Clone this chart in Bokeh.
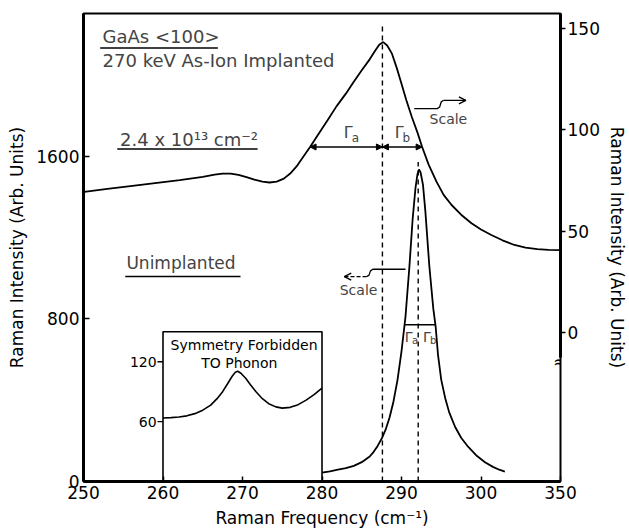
from bokeh.plotting import figure
from bokeh.models import Range1d, LinearAxis, FixedTicker, Label, Arrow, NormalHead, OpenHead
from bokeh.embed import file_html
from bokeh.resources import INLINE
from bokeh.core.properties import value

FONT = "DejaVu Sans"

# ---------------- data ----------------
x_ticks = [250, 260, 270, 280, 290, 300, 310]
x_tick_labels = ["250", "260", "270", "280", "290", "300", "350"]
left_ticks = [0, 800, 1600]
right_ticks = [0, 50, 100, 150]
inset_ticks = [60, 120]
inset_tick_labels = ["60", "120"]

# 2.4e13 cm^-2 implanted spectrum (right scale)
impl_freq = [250.1, 253.0, 255.9, 259.0, 262.1, 265.0, 266.5, 267.5, 268.5, 269.5, 270.5,
             271.5, 272.5, 273.4, 274.3, 275.2, 276.0, 276.8, 277.6, 278.5, 279.5, 280.7,
             281.8, 283.0, 284.0, 285.0, 286.0, 286.7, 287.2, 287.7, 288.2, 288.8, 289.4,
             290.0, 290.6, 291.3, 292.0, 292.6, 293.4, 294.4, 295.3, 296.3, 297.5, 298.8,
             300.0, 301.3, 302.7, 304.2, 305.6, 307.1, 308.5, 310.0]
impl_int = [69.5, 70.9, 72.3, 73.8, 75.3, 76.9, 78.0, 78.5, 78.5, 77.8, 76.7,
            75.5, 74.5, 74.1, 74.5, 76.0, 78.5, 82.0, 86.5, 91.6, 97.6, 104.8,
            111.5, 117.9, 123.8, 129.4, 134.8, 139.2, 142.0, 143.3, 141.6, 137.6, 130.6,
            122.8, 114.8, 106.4, 98.8, 91.6, 83.0, 74.5, 68.0, 63.0, 58.2, 54.0,
            50.9, 48.2, 45.6, 43.3, 42.0, 41.2, 40.9, 40.8]

# unimplanted spectrum (left scale)
unimpl_freq = [280.0, 281.0, 282.0, 283.0, 284.0, 285.0, 286.0, 286.5, 287.0, 287.5, 288.0,
               288.5, 289.0, 289.5, 290.0, 290.5, 291.0, 291.4, 291.75, 292.0, 292.2, 292.4,
               292.7, 293.0, 293.5, 294.0, 294.3, 294.6, 295.0, 295.5, 296.0, 296.75, 297.5,
               298.4, 299.5, 300.5, 301.5, 302.3, 303.0]
unimpl_int = [44, 50, 58, 66, 77, 95, 123, 146, 175, 210, 255,
              315, 395, 500, 640, 810, 1060, 1290, 1440, 1510, 1535, 1520,
              1460, 1330, 1060, 850, 760, 620, 500, 410, 340, 268, 215,
              170, 125, 95, 72, 58, 49]

# inset: symmetry forbidden TO phonon (inset scale)
inset_freq = [260.0, 261.0, 262.0, 263.0, 264.0, 265.0, 266.0, 266.8, 267.5, 268.2, 268.7,
              269.1, 269.4, 269.8, 270.4, 271.0, 271.7, 272.5, 273.3, 274.2, 275.0, 276.0,
              277.0, 278.0, 279.0, 280.0]
inset_int = [63.7, 64.0, 64.6, 65.8, 68.0, 71.5, 76.5, 83.0, 90.0, 99.0, 105.5,
             109.5, 110.5, 108.5, 103.5, 97.0, 90.0, 83.0, 78.0, 74.8, 73.5, 74.3,
             77.0, 81.5, 87.0, 93.5]

# ---------------- figure ----------------
p = figure(width=629, height=530, output_backend="svg", toolbar_location=None,
           x_range=Range1d(250, 310), y_range=Range1d(0, 2302),
           min_border_left=83, min_border_right=63, min_border_top=13, min_border_bottom=48)
p.extra_y_ranges = {"right": Range1d(-73.3, 157.4), "inset": Range1d(0, 469)}
p.xgrid.grid_line_color = None
p.ygrid.grid_line_color = None
p.outline_line_color = "black"
p.outline_line_width = 2
p.background_fill_color = "white"
p.border_fill_color = "white"

def style_axis(ax):
    ax.axis_line_width = 3
    ax.axis_line_color = "black"
    ax.major_tick_line_color = "black"
    ax.major_tick_line_width = 1.5
    ax.minor_tick_line_color = None
    ax.major_label_text_font = FONT
    ax.major_label_text_font_size = "17px"
    ax.major_label_text_color = "black"
    ax.axis_label_text_font = FONT
    ax.axis_label_text_font_size = "17px"
    ax.axis_label_text_font_style = "normal"
    ax.axis_label_text_color = "black"

xa = p.xaxis[0]
style_axis(xa)
xa.ticker = FixedTicker(ticks=x_ticks)
xa.major_label_overrides = {t: s for t, s in zip(x_ticks, x_tick_labels)}
xa.major_tick_in = 5
xa.major_tick_out = 0
xa.major_label_standoff = 4
xa.axis_label = "Raman Frequency (cm⁻¹)"
xa.axis_label_standoff = 6

ya = p.yaxis[0]
style_axis(ya)
ya.ticker = FixedTicker(ticks=left_ticks)
ya.major_tick_in = 6
ya.major_tick_out = 0
ya.major_label_standoff = 4
ya.axis_label = "Raman Intensity (Arb. Units)"
ya.axis_label_standoff = 6

ra = LinearAxis(y_range_name="right", ticker=FixedTicker(ticks=right_ticks),
                axis_label="Raman Intensity (Arb. Units)")
style_axis(ra)
ra.major_tick_in = 0
ra.major_tick_out = 5
ra.major_label_standoff = 2
ra.axis_label_standoff = 4
ra.bounds = (-12.0, 157.4)
p.add_layout(ra, "right")

# curves
p.line(impl_freq, impl_int, y_range_name="right", line_color="black", line_width=1.8)
p.line(unimpl_freq, unimpl_int, line_color="black", line_width=1.8)
p.line(inset_freq, inset_int, y_range_name="inset", line_color="black", line_width=1.6)

# inset frame and ticks
p.line([260, 260, 280, 280], [0, 150, 150, 0], y_range_name="inset", line_color="black", line_width=1.6)
p.segment(x0=[259.3] * len(inset_ticks), y0=inset_ticks, x1=[260] * len(inset_ticks), y1=inset_ticks,
          y_range_name="inset", line_color="black", line_width=1.3)
p.text(x=[259.2] * len(inset_ticks), y=inset_ticks, text=inset_tick_labels, y_range_name="inset",
       text_font=value(FONT), text_font_size="14px", text_align="right", text_baseline="middle")
p.text(x=[270.2], y=[136.5], text=["Symmetry Forbidden"], y_range_name="inset",
       text_font=value(FONT), text_font_size="14px", text_align="center", text_baseline="middle")
p.text(x=[269.6], y=[118.5], text=["TO Phonon"], y_range_name="inset",
       text_font=value(FONT), text_font_size="14px", text_align="center", text_baseline="middle")

# dashed peak markers
p.segment(x0=[287.6], y0=[0], x1=[287.6], y1=[2245], line_color="black", line_width=1.4, line_dash="5 4")
p.segment(x0=[292.1], y0=[0], x1=[292.1], y1=[1572], line_color="black", line_width=1.4, line_dash="5 4")

# widths (Gamma) on implanted peak
for xs, xe in [(287.6, 278.5), (287.6, 292.6)]:
    p.add_layout(Arrow(x_start=xs, y_start=91.6, x_end=xe, y_end=91.6, y_range_name="right",
                       start=NormalHead(size=6, fill_color="black", line_color="black"),
                       end=NormalHead(size=6, fill_color="black", line_color="black"),
                       line_color="black", line_width=1.4))

def gamma(x, y, sub, y_range="default", size=15):
    p.add_layout(Label(x=x, y=y, text="Γ", y_range_name=y_range, text_font=FONT,
                       text_font_size=f"{size}px", text_align="center", text_baseline="middle"))
    p.add_layout(Label(x=x, y=y, x_offset=size * 0.45, y_offset=-size * 0.3, text=sub,
                       y_range_name=y_range, text_font=FONT, text_font_size=f"{int(size * 0.75)}px",
                       text_align="center", text_baseline="middle"))

gamma(283.3, 98.5, "a", "right", 16)
gamma(289.7, 98.5, "b", "right", 16)

# widths on unimplanted peak
p.segment(x0=[290.45], y0=[771], x1=[294.3], y1=[771], line_color="black", line_width=1.4)
gamma(290.9, 712, "a", "default", 14)
gamma(293.2, 712, "b", "default", 14)

# "Scale" arrows
p.line([291.6, 294.5, 294.8, 295.0, 295.3], [110.5, 110.5, 111.3, 113.9, 114.6],
       y_range_name="right", line_color="black", line_width=1.3)
p.add_layout(Arrow(x_start=295.3, y_start=114.6, x_end=298.1, y_end=114.6, y_range_name="right",
                   end=OpenHead(size=7, line_color="black", line_width=1.3),
                   line_color="black", line_width=1.3))
p.add_layout(Label(x=295.9, y=105.3, text="Scale", y_range_name="right", text_font=FONT,
                   text_font_size="14px", text_align="center", text_baseline="middle"))

p.line([290.5, 286.4, 286.1, 285.9, 285.6], [1044, 1044, 1036, 1014, 1008],
       line_color="black", line_width=1.3)
p.add_layout(Arrow(x_start=285.6, y_start=1008, x_end=282.8, y_end=1008,
                   end=OpenHead(size=7, line_color="black", line_width=1.3),
                   line_color="black", line_width=1.3, line_dash="4 2"))
p.add_layout(Label(x=284.6, y=942, text="Scale", text_font=FONT,
                   text_font_size="14px", text_align="center", text_baseline="middle"))

# titles / sample labels
p.add_layout(Label(x=252.4, y=2190, text="GaAs <100>", text_font=FONT, text_font_size="18px",
                   text_align="left", text_baseline="middle"))
p.segment(x0=[252.1], y0=[2132], x1=[266.9], y1=[2132], line_color="black", line_width=1.5)
p.add_layout(Label(x=252.4, y=2071, text="270 keV As-Ion Implanted", text_font=FONT,
                   text_font_size="18px", text_align="left", text_baseline="middle"))
p.add_layout(Label(x=254.6, y=1680, text="2.4 x 10¹³ cm⁻²", text_font=FONT, text_font_size="18px",
                   text_align="left", text_baseline="middle"))
p.segment(x0=[254.25], y0=[1636], x1=[271.9], y1=[1636], line_color="black", line_width=1.5)
p.add_layout(Label(x=255.4, y=1077, text="Unimplanted", text_font=FONT, text_font_size="17px",
                   text_align="left", text_baseline="middle"))
p.segment(x0=[255.25], y0=[1008], x1=[269.75], y1=[1008], line_color="black", line_width=1.5)

# right axis break mark (visible part inside the frame)
p.text(x=[310], y=[-14.0], text=["≈"], y_range_name="right", text_font=value(FONT),
       text_font_size="18px", text_align="center", text_baseline="middle")

open("out.html", "w").write(file_html(p, INLINE))
